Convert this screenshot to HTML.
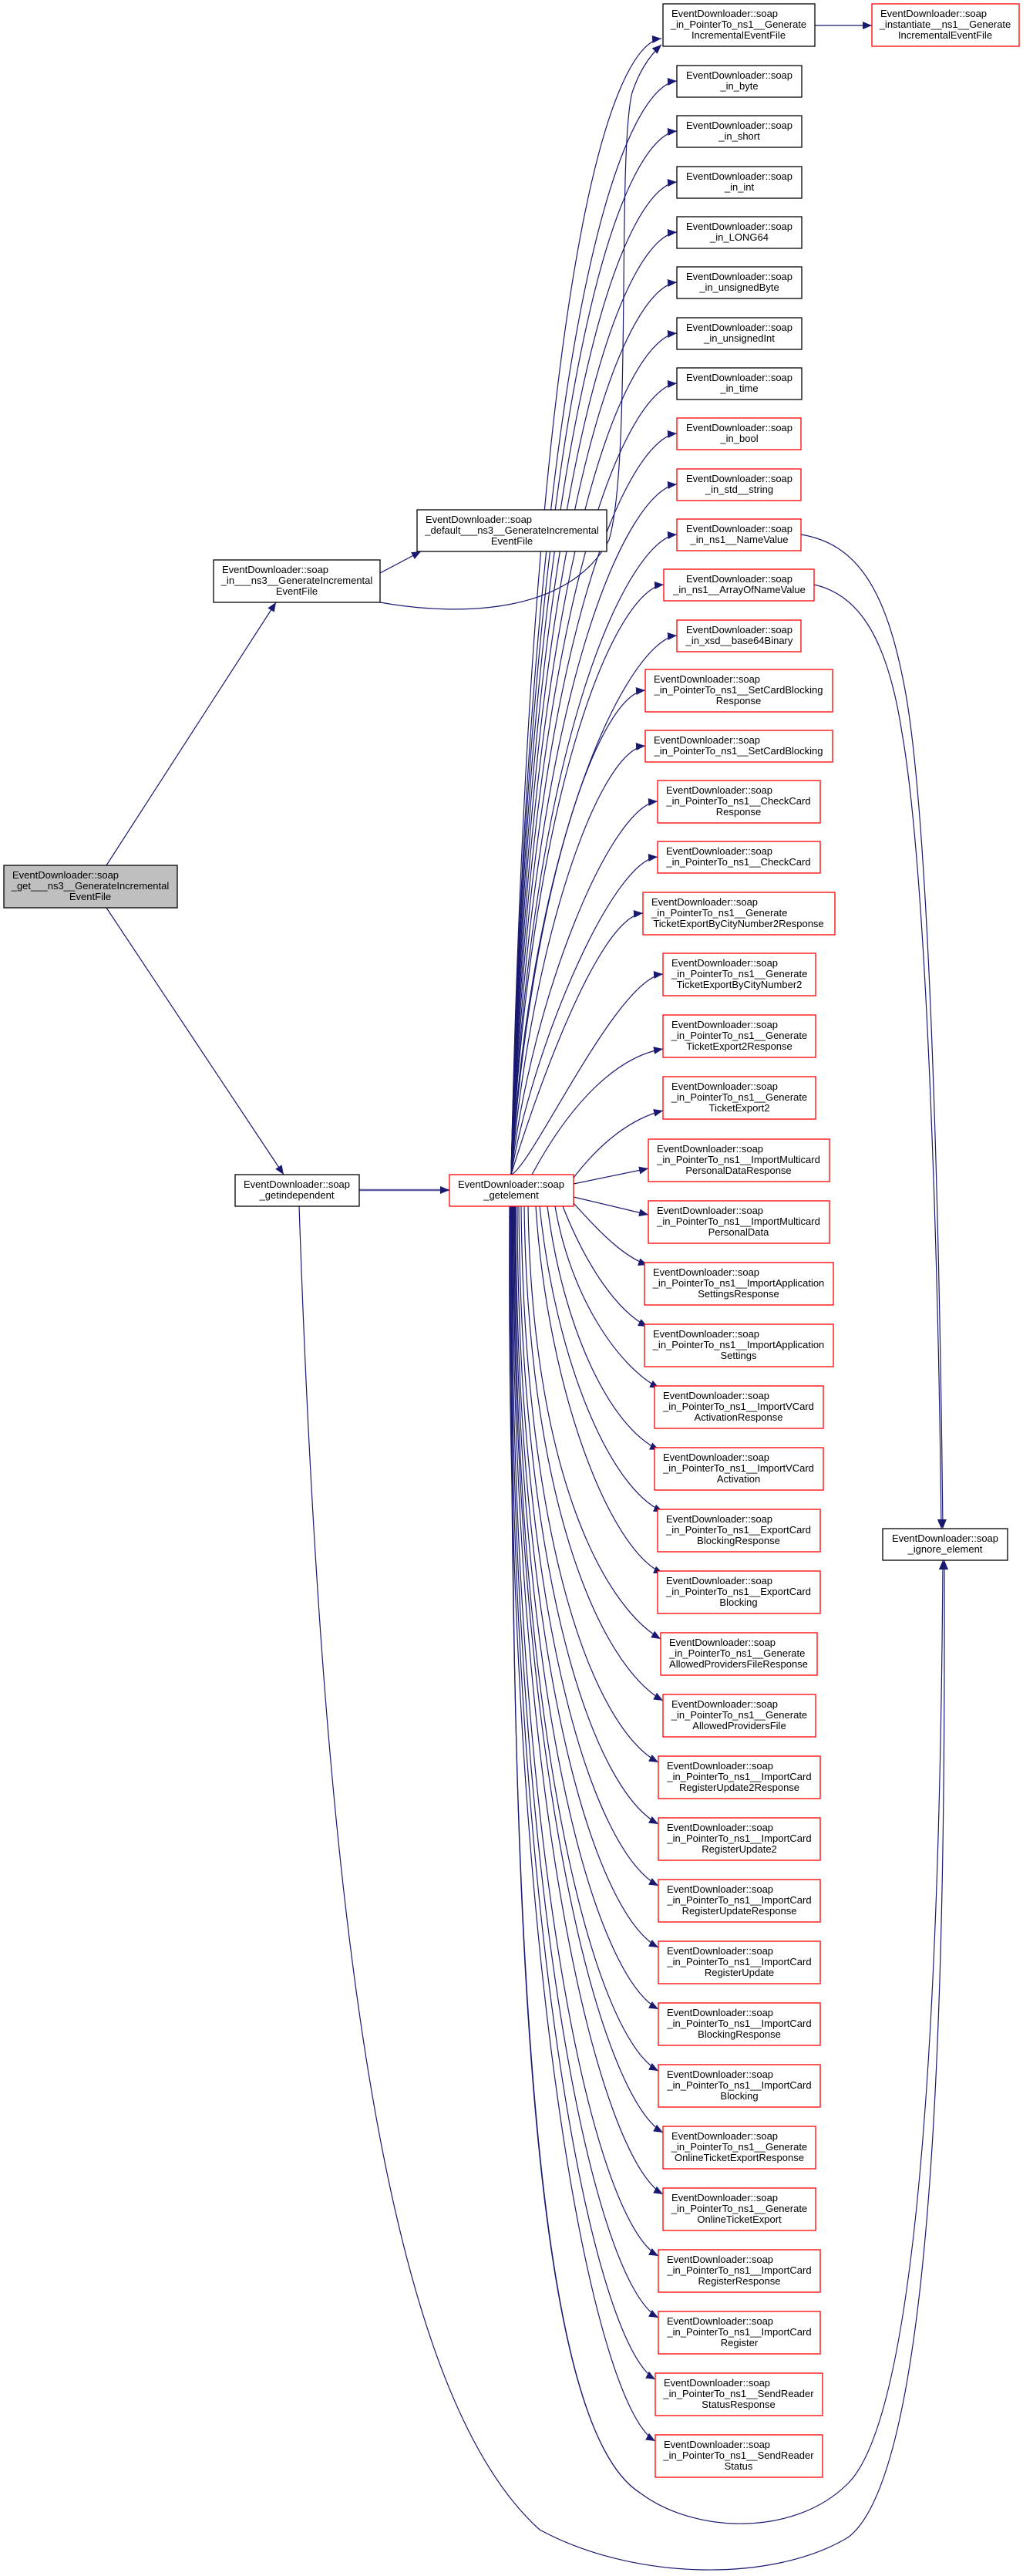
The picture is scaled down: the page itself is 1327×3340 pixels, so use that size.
<!DOCTYPE html>
<html><head><meta charset="utf-8"><style>
html,body{margin:0;padding:0;background:#fff;}
svg{display:block;}
text{font-family:"Liberation Sans",sans-serif;font-size:13px;fill:#000;}
.e{fill:none;stroke:#191970;stroke-width:1.2;}
.b{fill:#fff;stroke:#000;stroke-width:1.3;}
.r{fill:#fff;stroke:#ff0000;stroke-width:1.3;}
</style></head><body>
<svg width="1327" height="3340" viewBox="0 0 1327 3340" xmlns="http://www.w3.org/2000/svg">
<defs>
<marker id="a" markerUnits="userSpaceOnUse" markerWidth="14" markerHeight="12" refX="12" refY="5" orient="auto"><path d="M0,0 L12,5 L0,10 z" fill="#191970"/></marker>
</defs>
<g class="e" marker-end="url(#a)">
<path d="M1057 33 L1131 33"/>
<path d="M138 1122 L358 781"/>
<path d="M138 1177 L368 1523"/>
<path d="M466 1543 L583 1543" style="stroke:#5a5aa0;stroke-width:2.5"/>
<path d="M493 743 L546 715"/>
<path d="M493 781 C600 800 740 795 790 700 C820 600 800 200 820 120 C830 90 845 70 858 58"/>
<path d="M663 1523 C690 295 800 55 858 50"/>
<path d="M663 1523 C690 355 818 110 878 105"/>
<path d="M663 1523 C690 420 818 175 878 170"/>
<path d="M663 1523 C690 486 818 241 878 236"/>
<path d="M663 1523 C690 551 818 306 878 301"/>
<path d="M663 1523 C690 616 818 371 878 366"/>
<path d="M663 1523 C690 682 818 437 878 432"/>
<path d="M663 1523 C690 747 818 502 878 497"/>
<path d="M663 1523 C690 812 818 567 878 562"/>
<path d="M663 1523 C690 878 818 633 878 628"/>
<path d="M663 1523 C690 943 818 698 878 693"/>
<path d="M663 1523 C690 1008 801 763 861 758"/>
<path d="M663 1523 C690 1074 818 829 878 824"/>
<path d="M663 1523 C690 1145 777 900 837 895"/>
<path d="M663 1523 C690 1217 777 972 837 967"/>
<path d="M663 1523 C690 1289 793 1044 853 1039"/>
<path d="M663 1523 C690 1361 793 1116 853 1111"/>
<path d="M663 1523 C690 1434 774 1189 834 1184"/>
<path d="M663 1523 C690 1513 800 1268 860 1263"/>
<path d="M690 1523 C740 1430 800 1370 860 1360"/>
<path d="M744 1527 C780 1480 820 1450 860 1440"/>
<path d="M744 1535 L841 1515"/>
<path d="M744 1552 L841 1575"/>
<path d="M744 1560 C780 1600 810 1630 840 1640"/>
<path d="M730 1564 C760 1640 800 1700 840 1720"/>
<path d="M720 1564 C740 1680 800 1770 855 1800"/>
<path d="M710 1564 C730 1720 790 1850 855 1880"/>
<path d="M700 1564 C720 1760 790 1930 860 1960"/>
<path d="M695 1564 C710 1800 790 2010 860 2040"/>
<path d="M685 1564 C690 1900 780 2080 857 2125"/>
<path d="M680 1564 C685 1950 780 2160 860 2205"/>
<path d="M676 1564 C680 2000 770 2240 854 2285"/>
<path d="M673 1564 C676 2050 770 2320 854 2365"/>
<path d="M671 1564 C672 2100 770 2400 854 2445"/>
<path d="M669 1564 C670 2150 770 2480 854 2525"/>
<path d="M668 1564 C668 2200 770 2560 854 2605"/>
<path d="M667 1564 C666 2250 770 2640 854 2685"/>
<path d="M666 1564 C664 2300 780 2720 860 2765"/>
<path d="M665 1564 C662 2350 780 2800 860 2845"/>
<path d="M664 1564 C660 2400 770 2880 854 2925"/>
<path d="M663 1564 C658 2450 770 2960 854 3005"/>
<path d="M662 1564 C656 2500 770 3040 850 3085"/>
<path d="M661 1564 C654 2550 770 3120 850 3165"/>
<path d="M830 3232 C700 3150 658 2600 665 1566"/>
<path d="M1039 693 C1110 705 1150 760 1175 900 C1210 1100 1220 1700 1223 1982"/>
<path d="M1056 758 C1110 770 1150 820 1170 950 C1205 1150 1218 1700 1221 1982"/>
<path d="M663 1564 C660 2600 700 3150 830 3232 C900 3285 1030 3290 1100 3220 C1200 3120 1220 2500 1223 2023"/>
<path d="M388 1564 C420 2500 500 3100 700 3280 C820 3345 1000 3350 1100 3290 C1220 3200 1226 2500 1225 2023"/>
</g>

<rect x="5" y="1122" width="225" height="55" fill="#bfbfbf" stroke="#000" stroke-width="1.3"/>
<text x="16" y="1139">EventDownloader::soap</text><text x="117" y="1153" text-anchor="middle">_get___ns3__GenerateIncremental</text><text x="117" y="1167" text-anchor="middle">EventFile</text>

<rect class="b" x="277" y="726" width="216" height="55"/>
<text x="288" y="743">EventDownloader::soap</text><text x="385" y="757" text-anchor="middle">_in___ns3__GenerateIncremental</text><text x="385" y="771" text-anchor="middle">EventFile</text>

<rect class="b" x="541" y="661" width="246" height="54"/>
<text x="552" y="678">EventDownloader::soap</text><text x="664" y="692" text-anchor="middle">_default___ns3__GenerateIncremental</text><text x="664" y="706" text-anchor="middle">EventFile</text>

<rect class="b" x="305" y="1523" width="161" height="41"/>
<text x="385" y="1540" text-anchor="middle">EventDownloader::soap</text><text x="385" y="1554" text-anchor="middle">_getindependent</text>

<rect class="r" x="583" y="1523" width="161" height="41"/>
<text x="663" y="1540" text-anchor="middle">EventDownloader::soap</text><text x="663" y="1554" text-anchor="middle">_getelement</text>

<rect class="b" x="1145" y="1982" width="162" height="41"/>
<text x="1226" y="1999" text-anchor="middle">EventDownloader::soap</text><text x="1226" y="2013" text-anchor="middle">_ignore_element</text>

<rect class="b" x="860" y="5" width="197" height="55"/>
<text x="871" y="22">EventDownloader::soap</text><text x="958" y="36" text-anchor="middle">_in_PointerTo_ns1__Generate</text><text x="958" y="50" text-anchor="middle">IncrementalEventFile</text>

<rect class="r" x="1131" y="5" width="191" height="55"/>
<text x="1142" y="22">EventDownloader::soap</text><text x="1226" y="36" text-anchor="middle">_instantiate__ns1__Generate</text><text x="1226" y="50" text-anchor="middle">IncrementalEventFile</text>

<g text-anchor="middle">
<rect class="b" x="878" y="85" width="162" height="41"/><text x="959" y="102">EventDownloader::soap</text><text x="959" y="116">_in_byte</text>
<rect class="b" x="878" y="150" width="162" height="41"/><text x="959" y="167">EventDownloader::soap</text><text x="959" y="181">_in_short</text>
<rect class="b" x="878" y="216" width="162" height="41"/><text x="959" y="233">EventDownloader::soap</text><text x="959" y="247">_in_int</text>
<rect class="b" x="878" y="281" width="162" height="41"/><text x="959" y="298">EventDownloader::soap</text><text x="959" y="312">_in_LONG64</text>
<rect class="b" x="878" y="346" width="162" height="41"/><text x="959" y="363">EventDownloader::soap</text><text x="959" y="377">_in_unsignedByte</text>
<rect class="b" x="878" y="412" width="162" height="41"/><text x="959" y="429">EventDownloader::soap</text><text x="959" y="443">_in_unsignedInt</text>
<rect class="b" x="878" y="477" width="162" height="41"/><text x="959" y="494">EventDownloader::soap</text><text x="959" y="508">_in_time</text>
<rect class="r" x="878" y="542" width="161" height="41"/><text x="959" y="559">EventDownloader::soap</text><text x="959" y="573">_in_bool</text>
<rect class="r" x="878" y="608" width="161" height="41"/><text x="959" y="625">EventDownloader::soap</text><text x="959" y="639">_in_std__string</text>
<rect class="r" x="878" y="673" width="161" height="41"/><text x="959" y="690">EventDownloader::soap</text><text x="959" y="704">_in_ns1__NameValue</text>
<rect class="r" x="861" y="738" width="195" height="41"/><text x="959" y="755">EventDownloader::soap</text><text x="959" y="769">_in_ns1__ArrayOfNameValue</text>
<rect class="r" x="878" y="804" width="161" height="41"/><text x="959" y="821">EventDownloader::soap</text><text x="959" y="835">_in_xsd__base64Binary</text>
</g>

<g>
<rect class="r" x="837" y="868" width="243" height="55"/><text x="848" y="885">EventDownloader::soap</text><text x="958" y="899" text-anchor="middle">_in_PointerTo_ns1__SetCardBlocking</text><text x="958" y="913" text-anchor="middle">Response</text>
<rect class="r" x="837" y="947" width="243" height="41"/><text x="848" y="964">EventDownloader::soap</text><text x="958" y="978" text-anchor="middle">_in_PointerTo_ns1__SetCardBlocking</text>
<rect class="r" x="853" y="1012" width="211" height="55"/><text x="864" y="1029">EventDownloader::soap</text><text x="958" y="1043" text-anchor="middle">_in_PointerTo_ns1__CheckCard</text><text x="958" y="1057" text-anchor="middle">Response</text>
<rect class="r" x="853" y="1091" width="211" height="41"/><text x="864" y="1108">EventDownloader::soap</text><text x="958" y="1122" text-anchor="middle">_in_PointerTo_ns1__CheckCard</text>
<rect class="r" x="834" y="1157" width="249" height="55"/><text x="845" y="1174">EventDownloader::soap</text><text x="845" y="1188">_in_PointerTo_ns1__Generate</text><text x="958" y="1202" text-anchor="middle">TicketExportByCityNumber2Response</text>
<rect class="r" x="860" y="1236" width="198" height="55"/><text x="871" y="1253">EventDownloader::soap</text><text x="871" y="1267">_in_PointerTo_ns1__Generate</text><text x="959" y="1281" text-anchor="middle">TicketExportByCityNumber2</text>
<rect class="r" x="860" y="1316" width="198" height="55"/><text x="871" y="1333">EventDownloader::soap</text><text x="959" y="1347" text-anchor="middle">_in_PointerTo_ns1__Generate</text><text x="959" y="1361" text-anchor="middle">TicketExport2Response</text>
<rect class="r" x="860" y="1396" width="198" height="55"/><text x="871" y="1413">EventDownloader::soap</text><text x="959" y="1427" text-anchor="middle">_in_PointerTo_ns1__Generate</text><text x="959" y="1441" text-anchor="middle">TicketExport2</text>
<rect class="r" x="841" y="1477" width="235" height="55"/><text x="852" y="1494">EventDownloader::soap</text><text x="958" y="1508" text-anchor="middle">_in_PointerTo_ns1__ImportMulticard</text><text x="958" y="1522" text-anchor="middle">PersonalDataResponse</text>
<rect class="r" x="841" y="1557" width="235" height="55"/><text x="852" y="1574">EventDownloader::soap</text><text x="958" y="1588" text-anchor="middle">_in_PointerTo_ns1__ImportMulticard</text><text x="958" y="1602" text-anchor="middle">PersonalData</text>
<rect class="r" x="836" y="1637" width="245" height="55"/><text x="847" y="1654">EventDownloader::soap</text><text x="958" y="1668" text-anchor="middle">_in_PointerTo_ns1__ImportApplication</text><text x="958" y="1682" text-anchor="middle">SettingsResponse</text>
<rect class="r" x="836" y="1717" width="245" height="55"/><text x="847" y="1734">EventDownloader::soap</text><text x="958" y="1748" text-anchor="middle">_in_PointerTo_ns1__ImportApplication</text><text x="958" y="1762" text-anchor="middle">Settings</text>
<rect class="r" x="849" y="1797" width="219" height="55"/><text x="860" y="1814">EventDownloader::soap</text><text x="958" y="1828" text-anchor="middle">_in_PointerTo_ns1__ImportVCard</text><text x="958" y="1842" text-anchor="middle">ActivationResponse</text>
<rect class="r" x="849" y="1877" width="219" height="55"/><text x="860" y="1894">EventDownloader::soap</text><text x="958" y="1908" text-anchor="middle">_in_PointerTo_ns1__ImportVCard</text><text x="958" y="1922" text-anchor="middle">Activation</text>
<rect class="r" x="853" y="1957" width="211" height="55"/><text x="864" y="1974">EventDownloader::soap</text><text x="958" y="1988" text-anchor="middle">_in_PointerTo_ns1__ExportCard</text><text x="958" y="2002" text-anchor="middle">BlockingResponse</text>
<rect class="r" x="853" y="2037" width="211" height="55"/><text x="864" y="2054">EventDownloader::soap</text><text x="958" y="2068" text-anchor="middle">_in_PointerTo_ns1__ExportCard</text><text x="958" y="2082" text-anchor="middle">Blocking</text>
<rect class="r" x="857" y="2117" width="203" height="55"/><text x="868" y="2134">EventDownloader::soap</text><text x="868" y="2148">_in_PointerTo_ns1__Generate</text><text x="958" y="2162" text-anchor="middle">AllowedProvidersFileResponse</text>
<rect class="r" x="860" y="2197" width="198" height="55"/><text x="871" y="2214">EventDownloader::soap</text><text x="959" y="2228" text-anchor="middle">_in_PointerTo_ns1__Generate</text><text x="959" y="2242" text-anchor="middle">AllowedProvidersFile</text>
<rect class="r" x="854" y="2277" width="210" height="55"/><text x="865" y="2294">EventDownloader::soap</text><text x="959" y="2308" text-anchor="middle">_in_PointerTo_ns1__ImportCard</text><text x="959" y="2322" text-anchor="middle">RegisterUpdate2Response</text>
<rect class="r" x="854" y="2357" width="210" height="55"/><text x="865" y="2374">EventDownloader::soap</text><text x="959" y="2388" text-anchor="middle">_in_PointerTo_ns1__ImportCard</text><text x="959" y="2402" text-anchor="middle">RegisterUpdate2</text>
<rect class="r" x="854" y="2437" width="210" height="55"/><text x="865" y="2454">EventDownloader::soap</text><text x="959" y="2468" text-anchor="middle">_in_PointerTo_ns1__ImportCard</text><text x="959" y="2482" text-anchor="middle">RegisterUpdateResponse</text>
<rect class="r" x="854" y="2517" width="210" height="55"/><text x="865" y="2534">EventDownloader::soap</text><text x="959" y="2548" text-anchor="middle">_in_PointerTo_ns1__ImportCard</text><text x="959" y="2562" text-anchor="middle">RegisterUpdate</text>
<rect class="r" x="854" y="2597" width="210" height="55"/><text x="865" y="2614">EventDownloader::soap</text><text x="959" y="2628" text-anchor="middle">_in_PointerTo_ns1__ImportCard</text><text x="959" y="2642" text-anchor="middle">BlockingResponse</text>
<rect class="r" x="854" y="2677" width="210" height="55"/><text x="865" y="2694">EventDownloader::soap</text><text x="959" y="2708" text-anchor="middle">_in_PointerTo_ns1__ImportCard</text><text x="959" y="2722" text-anchor="middle">Blocking</text>
<rect class="r" x="860" y="2757" width="198" height="55"/><text x="871" y="2774">EventDownloader::soap</text><text x="959" y="2788" text-anchor="middle">_in_PointerTo_ns1__Generate</text><text x="959" y="2802" text-anchor="middle">OnlineTicketExportResponse</text>
<rect class="r" x="860" y="2837" width="198" height="55"/><text x="871" y="2854">EventDownloader::soap</text><text x="959" y="2868" text-anchor="middle">_in_PointerTo_ns1__Generate</text><text x="959" y="2882" text-anchor="middle">OnlineTicketExport</text>
<rect class="r" x="854" y="2917" width="210" height="55"/><text x="865" y="2934">EventDownloader::soap</text><text x="959" y="2948" text-anchor="middle">_in_PointerTo_ns1__ImportCard</text><text x="959" y="2962" text-anchor="middle">RegisterResponse</text>
<rect class="r" x="854" y="2997" width="210" height="55"/><text x="865" y="3014">EventDownloader::soap</text><text x="959" y="3028" text-anchor="middle">_in_PointerTo_ns1__ImportCard</text><text x="959" y="3042" text-anchor="middle">Register</text>
<rect class="r" x="850" y="3077" width="217" height="55"/><text x="861" y="3094">EventDownloader::soap</text><text x="958" y="3108" text-anchor="middle">_in_PointerTo_ns1__SendReader</text><text x="958" y="3122" text-anchor="middle">StatusResponse</text>
<rect class="r" x="850" y="3157" width="217" height="55"/><text x="861" y="3174">EventDownloader::soap</text><text x="958" y="3188" text-anchor="middle">_in_PointerTo_ns1__SendReader</text><text x="958" y="3202" text-anchor="middle">Status</text>
</g>
</svg>
</body></html>
